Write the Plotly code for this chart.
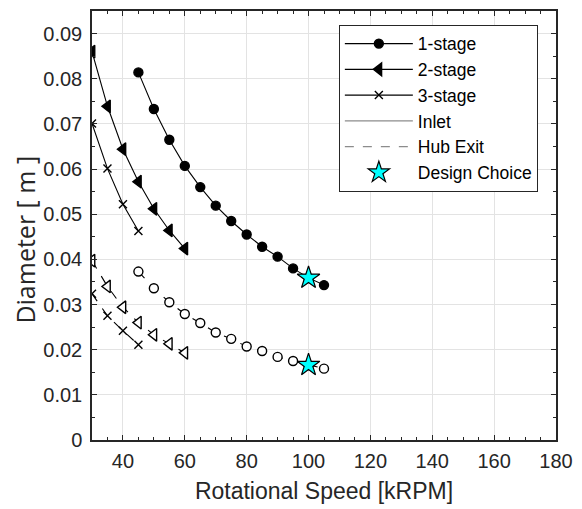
import plotly.graph_objects as go

# Rotational speed samples [kRPM]
speed_1stage = [45, 50, 55, 60, 65, 70, 75, 80, 85, 90, 95, 100, 105]
speed_2stage = [30, 35, 40, 45, 50, 55, 60]
speed_3stage = [30, 35, 40, 45]

# Inlet diameters [m]
inlet_1stage = [0.0814, 0.0733, 0.0665, 0.0607, 0.0560, 0.0519, 0.0485,
                0.0455, 0.0428, 0.0406, 0.0380, 0.0359, 0.0343]
inlet_2stage = [0.0860, 0.0739, 0.0644, 0.0572, 0.0512, 0.0464, 0.0424]
inlet_3stage = [0.0701, 0.0601, 0.0522, 0.0463]

# Hub exit diameters [m]
hub_1stage = [0.0373, 0.0336, 0.0305, 0.0279, 0.0259, 0.0238, 0.0224,
              0.0207, 0.0197, 0.0184, 0.0175, 0.0166, 0.0158]
hub_2stage = [0.0397, 0.0340, 0.0294, 0.0260, 0.0233, 0.0213, 0.0193]
hub_3stage = [0.0324, 0.0275, 0.0242, 0.0211]

# Selected design point (1-stage at 100 kRPM)
design_speed = [100, 100]
design_diam = [0.0359, 0.0166]

INK = "#262626"
FONT = "Liberation Sans, Arial, sans-serif"

fig = go.Figure()

# (name, speeds, inlet, hub, symbol, marker size, filled inlet marker)
stages = [
    ("1-stage", speed_1stage, inlet_1stage, hub_1stage, "circle", 9, True),
    ("2-stage", speed_2stage, inlet_2stage, hub_2stage, "triangle-left", 11, True),
    ("3-stage", speed_3stage, inlet_3stage, hub_3stage, "x-thin-open", 8, False),
]

for rank, (name, xs, inlet, hub, sym, msize, filled) in enumerate(stages):
    fig.add_trace(go.Scatter(
        x=xs, y=inlet, mode="lines+markers", name=name,
        line=dict(color="black", width=1.1),
        marker=dict(symbol=sym, size=msize, color="black",
                    line=dict(color="black", width=1.4)),
        legendrank=rank + 1,
    ))
    fig.add_trace(go.Scatter(
        x=xs, y=hub, mode="lines+markers", showlegend=False,
        line=dict(color="black", width=1.1, dash="dash"),
        marker=dict(symbol=sym, size=msize,
                    color="white" if filled else "black",
                    line=dict(color="black", width=1.4)),
    ))

# Legend-only keys for the line styles
fig.add_trace(go.Scatter(
    x=[None], y=[None], mode="lines", name="Inlet",
    line=dict(color="#8c8c8c", width=1.1), legendrank=4,
))
fig.add_trace(go.Scatter(
    x=[None], y=[None], mode="lines", name="Hub Exit",
    line=dict(color="#8c8c8c", width=1.1, dash="dash"), legendrank=5,
))

fig.add_trace(go.Scatter(
    x=design_speed, y=design_diam, mode="markers", name="Design Choice",
    marker=dict(symbol="star", size=17, color="#00ffff",
                line=dict(color="black", width=1.2)),
    legendrank=6,
))

axis_common = dict(
    showline=True, linecolor=INK, linewidth=1.5, mirror="ticks",
    ticks="inside", ticklen=5, tickwidth=1.3, tickcolor=INK,
    showgrid=True, gridcolor="#e3e3e3", gridwidth=1,
    zeroline=False,
    tickfont=dict(family=FONT, size=20, color=INK),
)

fig.update_xaxes(
    range=[30, 180], tick0=0, dtick=20,
    minor=dict(ticks="inside", dtick=5, ticklen=3, tickcolor=INK, showgrid=False),
    ticklabelstandoff=2,
    title=dict(text="Rotational Speed [kRPM]", font=dict(family=FONT, size=23, color=INK),
               standoff=12),
    **axis_common,
)
fig.update_yaxes(
    range=[0, 0.095], tick0=0, dtick=0.01,
    minor=dict(ticks="inside", dtick=0.005, ticklen=3, tickcolor=INK, showgrid=False),
    ticklabelstandoff=4,
    **axis_common,
)

# Vertical axis label
fig.add_annotation(
    text="Diameter [ m ]", textangle=-90,
    xref="paper", yref="paper", x=-0.144, y=0.4676,
    xanchor="center", yanchor="middle", showarrow=False,
    font=dict(family="Open Sans, sans-serif", size=25, color=INK),
)

fig.update_layout(
    width=582, height=509,
    margin=dict(l=92, r=18, t=9, b=68),
    plot_bgcolor="white", paper_bgcolor="white",
    showlegend=True,
    legend=dict(
        x=0.532, y=0.968, xanchor="left", yanchor="top",
        bgcolor="white", bordercolor=INK, borderwidth=1,
        font=dict(family=FONT, size=17.5, color="black"),
        itemwidth=68,
    ),
)

fig.write_html("out.html")
